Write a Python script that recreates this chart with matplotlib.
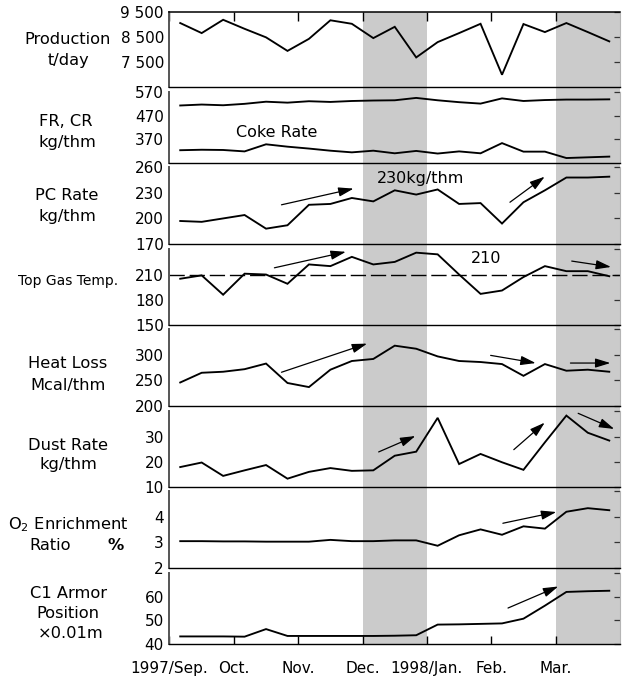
import numpy as np
import matplotlib.pyplot as plt
from matplotlib.ticker import FixedLocator

plt.rcParams['font.family'] = ['DejaVu Sans']
plt.rcParams['mathtext.default'] = 'regular'

W, H = 623, 682

# --- data (one value per 10-day period, Sep 1997 .. Mar 1998) ---
months = ['1997/Sep.', 'Oct.', 'Nov.', 'Dec.', '1998/Jan.', 'Feb.', 'Mar.']
shaded_months = [3, 6]  # Dec. and Mar.

production = [9060, 8660, 9190, 8830, 8490, 7950, 8430, 9170, 9030, 8460, 8910,
              7690, 8300, 8660, 9030, 7000, 9020, 8700, 9060, 8700, 8330]
fuel_rate = [513, 517, 514, 520, 529, 525, 531, 528, 532, 534, 535,
             545, 535, 527, 521, 543, 532, 536, 538, 538, 539]
coke_rate = [324, 326, 325, 319, 349, 339, 331, 322, 315, 322, 311,
             321, 310, 319, 311, 354, 318, 318, 291, 294, 297]
pc_rate = [197, 196, 200, 204, 188, 192, 216, 217, 224, 220, 233,
           228, 234, 217, 218, 194, 219, 233, 248, 248, 249]
top_gas_temp = [205, 209, 186, 211, 210, 199, 222, 220, 231, 222, 225,
                236, 234, 210, 187, 191, 207, 220, 214, 214, 208]
heat_loss = [246, 265, 267, 272, 283, 245, 237, 271, 288, 292, 318,
             312, 297, 288, 286, 282, 259, 282, 269, 271, 267]
dust_rate = [17.9, 19.7, 14.4, 16.6, 18.7, 13.3, 16.0, 17.5, 16.4, 16.6, 22.4,
             24.0, 37.4, 19.1, 23.1, 19.8, 16.8, 27.7, 38.3, 31.5, 28.4]
o2_enrichment = [3.05, 3.05, 3.04, 3.04, 3.03, 3.03, 3.03, 3.10, 3.05, 3.05, 3.08,
                 3.08, 2.87, 3.28, 3.51, 3.30, 3.63, 3.54, 4.20, 4.34, 4.26]
c1_armor = [43.2, 43.2, 43.2, 43.1, 46.3, 43.4, 43.4, 43.4, 43.4, 43.4, 43.5,
            43.7, 48.2, 48.3, 48.5, 48.7, 50.7, 56.2, 62.0, 62.3, 62.5]

dekad = np.arange(len(production))
x = (dekad + 0.5) / 3.0  # months since 1 Sep 1997

# trend arrows: (start, end) per panel, in data units
arrows = {
    2: [((1.74, 216), (2.86, 235)), ((5.29, 219), (5.83, 249))],
    3: [((1.63, 218), (2.74, 237)), ((6.25, 226), (6.86, 219))],
    4: [((1.74, 266), (3.07, 322)), ((4.99, 299), (5.69, 284)), ((6.23, 284), (6.85, 284))],
    5: [((3.25, 23.9), (3.82, 30.2)), ((5.35, 24.8), (5.83, 35.5)), ((6.35, 39.2), (6.91, 33.0))],
    6: [((5.18, 3.75), (6.01, 4.19))],
    7: [((5.26, 55.2), (6.04, 64.3))],
}


def px_to_fig(x_px, y_px):
    return x_px / W, 1 - y_px / H


def make_chart():
    fig = plt.figure(figsize=(W / 100, H / 100), dpi=100)

    left, right = 169.5, 620.0
    # panel tops / bottoms in pixels
    rows = [(12, 87.3), (92, 163), (167.3, 244), (249.3, 325),
            (329.3, 406), (411.3, 487), (491.3, 568), (573, 644)]

    # shaded months as one background strip behind all panels
    bg = fig.add_axes([left / W, 1 - 644 / H, (right - left) / W, (644 - 12) / H])
    bg.set_xlim(0, 7)
    bg.set_ylim(0, 1)
    for m in shaded_months:
        bg.axvspan(m, m + 1, color='#cbcbcb', lw=0)
    bg.axis('off')

    panels = [
        dict(series=[production], ylim=(6500, 9500), ticks=[7500, 8500, 9500],
             labels=['7 500', '8 500', '9 500']),
        dict(series=[fuel_rate, coke_rate], ylim=(270, 570), ticks=[370, 470, 570],
             labels=['370', '470', '570']),
        dict(series=[pc_rate], ylim=(170, 260), ticks=[170, 200, 230, 260],
             labels=['170', '200', '230', '260']),
        dict(series=[top_gas_temp], ylim=(150, 240), ticks=[150, 180, 210, 240],
             labels=['150', '180', '210', '']),
        dict(series=[heat_loss], ylim=(200, 350), ticks=[200, 250, 300, 350],
             labels=['200', '250', '300', '']),
        dict(series=[dust_rate], ylim=(10, 40), ticks=[10, 20, 30, 40],
             labels=['10', '20', '30', '']),
        dict(series=[o2_enrichment], ylim=(2, 5), ticks=[2, 3, 4, 5],
             labels=['2', '3', '4', '']),
        dict(series=[c1_armor], ylim=(40, 70), ticks=[40, 50, 60, 70],
             labels=['40', '50', '60', '']),
    ]

    axes = []
    for i, (p, (top, bot)) in enumerate(zip(panels, rows)):
        ax = fig.add_axes([left / W, 1 - bot / H, (right - left) / W, (bot - top) / H])
        ax.patch.set_alpha(0)
        ax.set_xlim(0, 7)
        ax.set_ylim(*p['ylim'])
        for s in p['series']:
            ax.plot(x, s, color='black', lw=1.35, solid_joinstyle='miter')

        ax.set_yticks(p['ticks'])
        ax.set_yticklabels(p['labels'], fontsize=11)
        ax.tick_params(axis='y', which='major', left=False, right=True, labelleft=True,
                       direction='in', length=4.5, width=0.9, pad=4, colors='#333333',
                       labelcolor='black')
        ax.yaxis.set_minor_locator(FixedLocator([p['ylim'][1]]))
        ax.tick_params(axis='y', which='minor', left=True, right=False,
                       direction='in', length=4, width=1.0, color='#444444')

        ax.spines['top'].set_visible(i == 0)
        ax.spines['top'].set_linewidth(1.1)
        ax.spines['left'].set_color('#555555')
        ax.spines['left'].set_linewidth(1.4)
        ax.spines['right'].set_color('#b5b5b5')
        ax.spines['right'].set_linewidth(0.8)
        ax.spines['bottom'].set_linewidth(1.0)

        ax.set_xticks(range(7))
        if i == 0:
            ax.tick_params(axis='x', top=True, bottom=False, labelbottom=False,
                           direction='in', length=6.3, width=1.0)
        elif i == len(panels) - 1:
            ax.set_xticklabels(months, fontsize=11)
            ax.tick_params(axis='x', bottom=True, direction='in', length=6,
                           width=1.0, pad=12)
        else:
            ax.tick_params(axis='x', bottom=False, labelbottom=False)

        for start, end in arrows.get(i, []):
            ax.annotate('', xy=end, xytext=start,
                        arrowprops=dict(arrowstyle='-|>,head_length=0.65,head_width=0.2',
                                        color='black', lw=0.9, mutation_scale=14,
                                        shrinkA=0, shrinkB=0))
        axes.append(ax)

    axes[1].text(1.67, 400, 'Coke Rate', fontsize=11.5, ha='center', va='center')
    axes[2].text(3.9, 247, '230kg/thm', fontsize=11.5, ha='center', va='center')
    axes[3].axhline(210, color='black', lw=1.0, ls=(0, (11, 3.5)))
    axes[3].text(4.92, 229.5, '210', fontsize=11.5, ha='center', va='center')

    # panel titles on the left
    side = [
        ('Production', 68, 40, 11.7), ('t/day', 68, 61, 11.7),
        ('FR, CR', 66, 121, 11.7), ('kg/thm', 67, 142, 11.7),
        ('PC Rate', 67, 196, 11.7), ('kg/thm', 67, 217, 11.7),
        ('Top Gas Temp.', 68, 281, 10),
        ('Heat Loss', 68, 364, 11.7), ('Mcal/thm', 68, 385, 11.7),
        ('Dust Rate', 68, 445, 11.7), ('kg/thm', 68, 465, 11.7),
        ('O$_2$ Enrichment', 68, 525, 11.7), ('Ratio', 50, 546, 11.7),
        ('C1 Armor', 68, 593, 11.7), ('Position', 68, 613, 11.7),
        ('×0.01m', 71, 633, 11.7),
    ]
    for txt, xp, yp, fs in side:
        fx, fy = px_to_fig(xp, yp)
        fig.text(fx, fy, txt, fontsize=fs, ha='center', va='center')
    fx, fy = px_to_fig(116, 546)
    fig.text(fx, fy, '%', fontsize=11.7, fontweight='bold', ha='center', va='center')

    fig.savefig('out.png', dpi=100)


if __name__ == '__main__':
    make_chart()
